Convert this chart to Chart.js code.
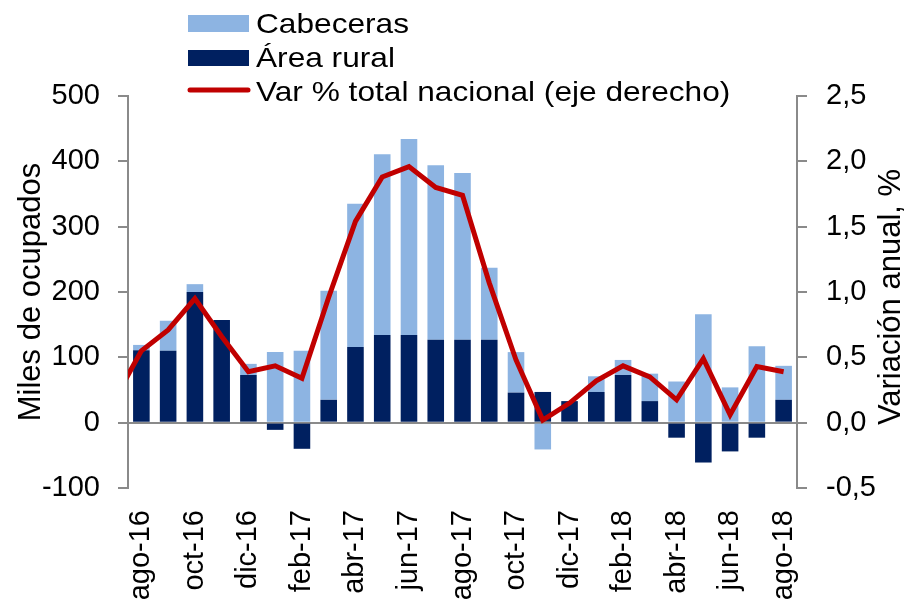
<!DOCTYPE html>
<html>
<head>
<meta charset="utf-8">
<script src="https://cdn.jsdelivr.net/npm/chart.js@4/dist/chart.umd.min.js"></script>
<style>
  html, body { margin: 0; padding: 0; background: #fff; overflow: hidden; }
  #wrap { width: 910px; height: 604px; overflow: hidden; }
</style>
</head>
<body>
<div id="wrap"><canvas id="chart" width="910" height="630"></canvas></div>
<script>
// jul-16 is only there so the red line enters from the left edge like the original
const months = ['jul-16', 'ago-16', 'sep-16', 'oct-16', 'nov-16', 'dic-16', 'ene-17', 'feb-17', 'mar-17',
    'abr-17', 'may-17', 'jun-17', 'jul-17', 'ago-17', 'sep-17', 'oct-17', 'nov-17', 'dic-17',
    'ene-18', 'feb-18', 'mar-18', 'abr-18', 'may-18', 'jun-18', 'jul-18', 'ago-18'];
const cabeceras = [null, 8, 46, 12, 0, 17, 108, 110, 167, 219, 277, 300, 267, 255, 110, 62, -41, 0, 24, 23, 42, 63, 166, 54, 117, 52];
const rural = [null, 111, 110, 200, 157, 73, -11, -40, 35, 116, 134, 134, 127, 127, 127, 46, 47, 33, 47, 73, 33, -23, -61, -44, -23, 35];
const varNacional = [0.18, 0.55, 0.71, 0.95, 0.66, 0.39, 0.435, 0.34, 0.96, 1.54, 1.88, 1.96, 1.80, 1.74, 1.07, 0.48, 0.02, 0.15, 0.32, 0.435, 0.35, 0.175, 0.49, 0.06, 0.43, 0.39];
const legendNames = ['Cabeceras', 'Área rural', 'Var % total nacional (eje derecho)'];
const leftTitle = 'Miles de ocupados';
const rightTitle = 'Variación anual, %';

const FONT = "'Liberation Sans', Arial, sans-serif";
const FS = 29;
const GRAY = '#8a8a8a';
const LIGHT = '#8db4e2';
const DARK = '#002060';
const RED = '#c00000';

Chart.defaults.font.family = FONT;
Chart.defaults.font.size = FS;
Chart.defaults.color = '#000';

// legend + right axis title drawn by hand (text is a bit wider in the original)
const extras = {
    id: 'extras',
    afterDraw(chart) {
        const c = chart.ctx;
        c.save();
        c.fillStyle = LIGHT;
        c.fillRect(188, 15, 61, 17);
        c.fillStyle = DARK;
        c.fillRect(188, 50, 61, 16);
        c.strokeStyle = RED;
        c.lineWidth = 5;
        c.lineCap = 'round';
        c.beginPath();
        c.moveTo(190, 90);
        c.lineTo(248, 90);
        c.stroke();

        c.font = '28px ' + FONT;
        c.fillStyle = '#000';
        c.textBaseline = 'alphabetic';
        c.textAlign = 'left';
        c.save();
        c.translate(256, 0);
        c.scale(1.13, 1);
        c.fillText(legendNames[0], 0, 33);
        c.fillText(legendNames[1], 0, 67);
        c.fillText(legendNames[2], 0, 101);
        c.restore();

        const a = chart.chartArea;
        c.font = '31px ' + FONT;
        c.translate(891, (a.top + a.bottom) / 2 + 5);
        c.rotate(-Math.PI / 2);
        c.textAlign = 'center';
        c.textBaseline = 'middle';
        c.fillText(rightTitle, 0, 0);
        c.restore();
    }
};

const comma = v => v.toFixed(1).replace('.', ',');

new Chart(document.getElementById('chart'), {
    data: {
        labels: months,
        datasets: [{
            type: 'bar',
            label: legendNames[0],
            data: cabeceras,
            backgroundColor: LIGHT,
            yAxisID: 'y',
            order: 2,
            barPercentage: 0.62,
            categoryPercentage: 1
        }, {
            type: 'bar',
            label: legendNames[1],
            data: rural,
            backgroundColor: DARK,
            yAxisID: 'y',
            order: 1,
            barPercentage: 0.62,
            categoryPercentage: 1
        }, {
            type: 'line',
            label: legendNames[2],
            data: varNacional,
            borderColor: RED,
            backgroundColor: RED,
            borderWidth: 5,
            pointRadius: 0,
            tension: 0,
            yAxisID: 'y1',
            order: 0
        }]
    },
    options: {
        responsive: false,
        animation: false,
        devicePixelRatio: 1,
        layout: { padding: { top: 96, left: 0, right: 0, bottom: 0 } },
        plugins: {
            legend: { display: false },
            tooltip: { enabled: false }
        },
        scales: {
            x: {
                stacked: true,
                min: 'ago-16',
                grid: { display: false },
                border: { display: false },
                ticks: {
                    autoSkip: false,
                    minRotation: 90,
                    maxRotation: 90,
                    padding: 14,
                    callback: v => v % 2 === 1 ? months[v] : ''
                },
                afterFit: s => { s.height = 630 - 488; }
            },
            y: {
                position: 'left',
                stacked: true,
                min: -100,
                max: 500,
                ticks: { stepSize: 100, padding: 18 },
                grid: {
                    color: ctx => (ctx.tick && ctx.tick.value === 0) ? GRAY : 'rgba(0,0,0,0)',
                    tickColor: GRAY,
                    lineWidth: 2,
                    tickLength: 10
                },
                border: { display: true, color: GRAY, width: 2 },
                title: {
                    display: true,
                    text: leftTitle,
                    font: { size: 31 },
                    padding: { top: 13, bottom: 0 }
                },
                afterFit: s => { s.width = 128; }
            },
            y1: {
                position: 'right',
                min: -0.5,
                max: 2.5,
                ticks: { stepSize: 0.5, padding: 19, callback: v => comma(v) },
                grid: {
                    drawOnChartArea: false,
                    color: GRAY,
                    tickColor: GRAY,
                    lineWidth: 2,
                    tickLength: 10
                },
                border: { display: true, color: GRAY, width: 2 },
                afterFit: s => { s.width = 113; }
            }
        }
    },
    plugins: [extras]
});
</script>
</body>
</html>
